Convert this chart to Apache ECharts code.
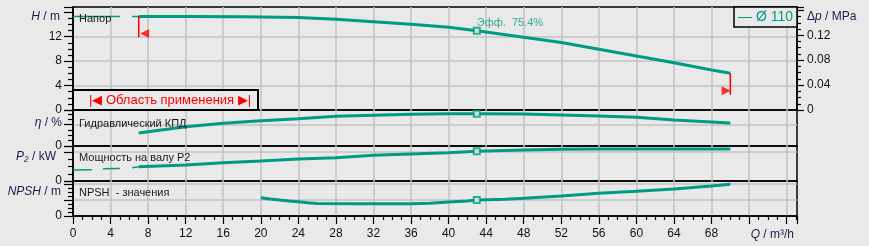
<!DOCTYPE html>
<html><head><meta charset="utf-8">
<script src="https://cdn.jsdelivr.net/npm/echarts@6/dist/echarts.min.js"></script>
<style>html,body{margin:0;padding:0;background:#e9e9e9}#c{width:869px;height:246px}</style>
</head><body><div id="c"></div>
<script>
// ---- data ----
const xTicks = [0,4,8,12,16,20,24,28,32,36,40,44,48,52,56,60,64,68];
const hTicks = [0,4,8,12];
const dpTicks = [0,0.04,0.08,0.12];

const qHead = [7, 12, 18, 24, 28, 32, 36, 40, 43, 48, 52, 56, 60, 64, 68, 70];
const hHead = [15.3, 15.3, 15.25, 15.15, 14.84, 14.45, 14.02, 13.53, 12.98, 11.9, 11.05, 9.93, 8.84, 7.74, 6.55, 6.0];
const qHeadLow = [0, 5.0, 5.6, 6.3, 7];
const hHeadLow = [15.3, 15.3, '-', 15.3, 15.3];

const qEta = [7, 12, 16, 20, 24, 28, 32, 36, 40, 43, 48, 52, 56, 60, 64, 68, 70];
const eta  = [30.4, 45.1, 53.0, 59.1, 63.8, 69.4, 72.0, 73.8, 75.0, 75.4, 74.8, 72.6, 70.1, 67.1, 60.7, 56.1, 53.7];

const qP2 = [7, 12, 16, 20, 24, 28, 32, 36, 40, 43, 48, 52, 56, 60, 64, 70];
const p2  = [0.99, 1.10, 1.26, 1.38, 1.52, 1.61, 1.77, 1.86, 1.95, 2.05, 2.14, 2.19, 2.21, 2.21, 2.21, 2.21];
const qP2Low = [0, 2.0, 2.6, 3.2, 5.0, 5.6, 6.3, 7];
const p2Low  = [0.76, 0.78, '-', 0.84, 0.86, '-', 0.91, 0.99];

const qNpsh = [20, 21, 22, 23, 24, 25, 26, 30, 36, 38, 40, 42, 43, 46, 48, 52, 56, 60, 64, 68, 70];
const npsh  = [2.29, 2.13, 2.0, 1.88, 1.79, 1.66, 1.56, 1.54, 1.54, 1.60, 1.75, 1.88, 2.0, 2.08, 2.21, 2.5, 2.84, 3.09, 3.38, 3.75, 3.96];

const bepQ = 43, bepH = 12.98, bepEta = 75.4, bepP2 = 2.05, bepNpsh = 2.0;
const qLimits = [7, 70];
const limitLineH = [[15.4, 11.9], [6.0, 2.5]];
const limitMarkQ = [7.62, 69.55];
const limitMarkH = [12.52, 3.14];
const diameter = 'Ø 110';

// ---- styles ----
const TEAL = '#009b83', RED = '#ff0000', BG = '#e9e9e9', GRID = '#c2c2c2';
const FONT = 'Liberation Sans, Arial, sans-serif';
const qMax = 77.1, hMax = 16.86, etaMax = 84, p2Max = 2.414, npshMax = 4.375;
const zip = (a, b) => a.map((v, i) => [v, b[i]]);

const grids = [
  {left: 73, right: 72, top: 7, height: 103},
  {left: 73, right: 72, top: 110, height: 36},
  {left: 73, right: 72, top: 146, height: 35},
  {left: 73, right: 72, top: 181, height: 35}
].map(g => Object.assign(g, {show: true, borderColor: '#000', borderWidth: 1.5, backgroundColor: 'transparent'}));

const xAxes = [0,1,2,3].map(i => ({
  type: 'value', gridIndex: i, min: 0, max: qMax, interval: 4,
  axisLine: {show: i === 3, lineStyle: {color: '#000', width: 1.5}},
  axisTick: {show: i === 3, length: 8, lineStyle: {color: '#000', width: 1.2}},
  minorTick: {show: i === 3, splitNumber: 4, length: 4, lineStyle: {color: '#000', width: 1.2}},
  axisLabel: {show: i === 3, margin: 12, color: '#111', fontFamily: FONT, fontSize: 12,
    formatter: v => xTicks.includes(v) ? String(v) : ''},
  splitLine: {show: true, showMinLine: false, showMaxLine: false, lineStyle: {color: GRID, width: 1.5}}
}));

function leftAxis(gi, max, interval, labels, gridColors) {
  return {
    type: 'value', gridIndex: gi, min: 0, max: max, interval: interval, position: 'left',
    axisLine: {show: true, lineStyle: {color: '#000', width: 1.5}},
    axisTick: {show: true, length: 9, lineStyle: {color: '#000', width: 1.2}},
    minorTick: {show: true, splitNumber: 4, length: 5, lineStyle: {color: '#000', width: 1.2}},
    axisLabel: {margin: 11, color: '#111', fontFamily: FONT, fontSize: 12,
      formatter: v => labels.includes(v) ? String(v) : ''},
    splitLine: {show: true, showMinLine: false, showMaxLine: false, lineStyle: {color: gridColors, width: 1.5}}
  };
}
const yAxes = [
  leftAxis(0, hMax, 4, hTicks, [GRID, GRID, GRID, 'rgba(0,0,0,0)']),
  {
    type: 'value', gridIndex: 0, min: 0, max: hMax * 0.00981, interval: 0.04, position: 'right',
    axisLine: {show: true, lineStyle: {color: '#000', width: 1.5}},
    axisTick: {show: true, length: 7, lineStyle: {color: '#000', width: 1.2}},
    minorTick: {show: true, splitNumber: 4, length: 4, lineStyle: {color: '#000', width: 1.2}},
    axisLabel: {margin: 10, color: '#111', fontFamily: FONT, fontSize: 12,
      formatter: v => { const t = dpTicks.find(d => Math.abs(d - v) < 1e-6); return t === undefined ? '' : (t === 0 ? '0' : t.toFixed(2)); }},
    splitLine: {show: false}
  },
  leftAxis(1, etaMax, 50, [0], [GRID]),
  leftAxis(2, p2Max, 2, [0], [GRID]),
  leftAxis(3, npshMax, 2, [0], [GRID])
];

const lineS = (xi, yi, data, w, color) => ({
  type: 'line', xAxisIndex: xi, yAxisIndex: yi, data: data, symbol: 'none', silent: true,
  lineStyle: {color: color || TEAL, width: w}, connectNulls: false, z: 3
});
const bep = (xi, yi, val, label) => ({
  type: 'scatter', xAxisIndex: xi, yAxisIndex: yi, data: [[bepQ, val]], symbol: 'rect', symbolSize: 6, z: 5,
  itemStyle: {color: '#f2f2f2', borderColor: TEAL, borderWidth: 2},
  label: label ? {show: true, position: 'right', distance: 5, offset: [-9, -8], color: TEAL, fontFamily: FONT, fontSize: 11,
    formatter: label} : {show: false}
});

const series = [
  lineS(0, 0, zip(qHead, hHead), 3),
  lineS(0, 0, zip(qHeadLow, hHeadLow), 1.5),
  lineS(1, 2, zip(qEta, eta), 3),
  lineS(2, 3, zip(qP2, p2), 3),
  lineS(2, 3, zip(qP2Low, p2Low), 1.5),
  lineS(3, 4, zip(qNpsh, npsh), 3),
  bep(0, 0, bepH, 'Эфф.  ' + bepEta + '%'),
  bep(1, 2, bepEta),
  bep(2, 3, bepP2),
  bep(3, 4, bepNpsh),
  lineS(0, 0, [[qLimits[0], limitLineH[0][0]], [qLimits[0], limitLineH[0][1]]], 1.5, RED),
  lineS(0, 0, [[qLimits[1], limitLineH[1][0]], [qLimits[1], limitLineH[1][1]]], 1.5, RED),
  {type: 'scatter', xAxisIndex: 0, yAxisIndex: 0, symbol: 'triangle', symbolSize: [9, 9], z: 6,
    itemStyle: {color: RED}, silent: true,
    data: [{value: [limitMarkQ[0], limitMarkH[0]], symbolRotate: 90},
           {value: [limitMarkQ[1], limitMarkH[1]], symbolRotate: -90}]}
];

const txt = (x, y, rich, text, align, size) => ({
  type: 'text', x: x, y: y, z: 10, silent: true,
  style: {text: text, rich: rich, fontFamily: FONT, fontSize: size || 11, fill: '#1a1a1a', align: align || 'left', verticalAlign: 'middle'}
});
const NAVY = '#1b1b4b';
const nameRich = {i: {fontStyle: 'italic', fontFamily: FONT, fontSize: 12, fill: NAVY}, n: {fontFamily: FONT, fontSize: 12, fill: NAVY}};

const graphic = [
  // application range box
  {type: 'rect', shape: {x: 73, y: 90, width: 185, height: 20}, style: {fill: BG, stroke: '#000', lineWidth: 2}, z: 8},
  {type: 'text', x: 170, y: 100, z: 9, style: {
    text: '|◀ Область применения ▶|', fill: RED, fontFamily: FONT, fontSize: 13,
    align: 'center', verticalAlign: 'middle'}},
  // legend box
  {type: 'rect', shape: {x: 734, y: 7, width: 63, height: 20}, style: {fill: BG, stroke: '#000', lineWidth: 1.5}, z: 8},
  {type: 'text', x: 765.5, y: 17, z: 9, style: {text: '— ' + diameter, fill: TEAL, fontFamily: FONT, fontSize: 14, align: 'center', verticalAlign: 'middle'}},
  // panel labels
  txt(79, 19, null, 'Напор'),
  txt(79, 124, null, 'Гидравлический КПД'),
  txt(79, 158, null, 'Мощность на валу P2'),
  txt(79, 193, null, 'NPSH  - значения'),
  // axis names
  txt(60, 17, nameRich, '{i|H}{n| / m}', 'right'),
  txt(62, 123, nameRich, '{i|η}{n| / %}', 'right'),
  txt(56, 157, nameRich, '{i|P₂}{n| / kW}', 'right'),
  txt(61, 192, nameRich, '{i|NPSH}{n| / m}', 'right'),
  txt(807, 17, nameRich, '{n|Δ}{i|p}{n| / MPa}', 'left'),
  txt(794, 235, nameRich, '{i|Q}{n| / m³/h}', 'right')
];

const chart = echarts.init(document.getElementById('c'), null, {renderer: 'canvas'});
chart.setOption({
  backgroundColor: BG, animation: false,
  textStyle: {fontFamily: FONT},
  grid: grids, xAxis: xAxes, yAxis: yAxes, series: series, graphic: graphic
});
</script></body></html>
